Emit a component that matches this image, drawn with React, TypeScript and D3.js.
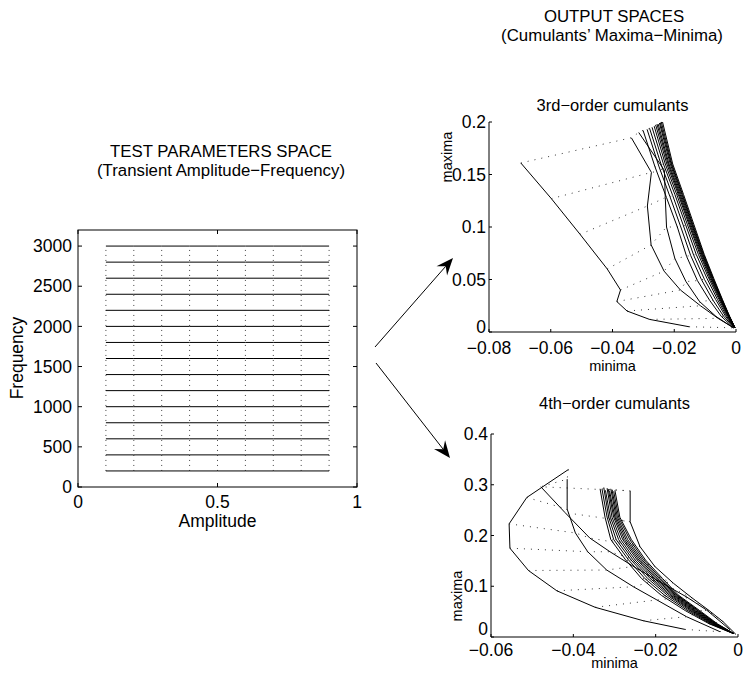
import React from 'react';
import * as d3 from 'd3';

// ---------- DATA ----------
const amplitudes = [0.1, 0.2, 0.3, 0.4, 0.5, 0.6, 0.7, 0.8, 0.9];
const frequencies = [200, 400, 600, 800, 1000, 1200, 1400, 1600, 1800, 2000, 2200, 2400, 2600, 2800, 3000];
const paramXTicks = [0, 0.5, 1];
const paramYTicks = [0, 500, 1000, 1500, 2000, 2500, 3000];

// 3rd-order cumulants: one row per frequency, one column per amplitude
const cum3Minima: number[][] = [
  [-0.0152, -0.0280, -0.0353, -0.0386, -0.0374, -0.0417, -0.0505, -0.0598, -0.0697],
  [-0.0008, -0.0058, -0.0115, -0.0180, -0.0233, -0.0275, -0.0287, -0.0274, -0.0339],
  [-0.0008, -0.0064, -0.0118, -0.0162, -0.0198, -0.0225, -0.0229, -0.0232, -0.0315],
  [-0.0008, -0.0048, -0.0085, -0.0125, -0.0160, -0.0190, -0.0225, -0.0262, -0.0301],
  [-0.0006, -0.0040, -0.0074, -0.0112, -0.0147, -0.0180, -0.0214, -0.0250, -0.0288],
  [-0.0005, -0.0034, -0.0066, -0.0102, -0.0137, -0.0170, -0.0205, -0.0242, -0.0280],
  [-0.0005, -0.0030, -0.0060, -0.0094, -0.0129, -0.0163, -0.0198, -0.0235, -0.0272],
  [-0.0004, -0.0027, -0.0055, -0.0088, -0.0122, -0.0157, -0.0192, -0.0229, -0.0265],
  [-0.0004, -0.0025, -0.0052, -0.0084, -0.0117, -0.0152, -0.0187, -0.0224, -0.0260],
  [-0.0004, -0.0024, -0.0050, -0.0081, -0.0114, -0.0149, -0.0184, -0.0220, -0.0256],
  [-0.0004, -0.0023, -0.0048, -0.0079, -0.0111, -0.0146, -0.0181, -0.0217, -0.0252],
  [-0.0003, -0.0022, -0.0047, -0.0077, -0.0109, -0.0143, -0.0178, -0.0213, -0.0248],
  [-0.0003, -0.0022, -0.0046, -0.0075, -0.0107, -0.0141, -0.0175, -0.0210, -0.0245],
  [-0.0003, -0.0021, -0.0045, -0.0074, -0.0105, -0.0139, -0.0173, -0.0208, -0.0242],
  [-0.0003, -0.0021, -0.0044, -0.0072, -0.0103, -0.0136, -0.0170, -0.0205, -0.0238],
];
const cum3Maxima: number[][] = [
  [0.005, 0.012, 0.020, 0.029, 0.040, 0.060, 0.093, 0.127, 0.161],
  [0.004, 0.013, 0.025, 0.040, 0.058, 0.083, 0.120, 0.152, 0.185],
  [0.004, 0.0146, 0.029, 0.048, 0.070, 0.100, 0.128, 0.154, 0.190],
  [0.004, 0.015, 0.030, 0.049, 0.072, 0.100, 0.128, 0.157, 0.192],
  [0.004, 0.015, 0.030, 0.050, 0.073, 0.101, 0.129, 0.158, 0.193],
  [0.004, 0.015, 0.031, 0.050, 0.073, 0.101, 0.130, 0.159, 0.194],
  [0.004, 0.015, 0.031, 0.051, 0.074, 0.102, 0.131, 0.160, 0.195],
  [0.004, 0.015, 0.031, 0.051, 0.074, 0.102, 0.131, 0.160, 0.196],
  [0.004, 0.015, 0.031, 0.051, 0.074, 0.102, 0.131, 0.160, 0.197],
  [0.004, 0.015, 0.031, 0.051, 0.074, 0.102, 0.131, 0.160, 0.198],
  [0.004, 0.015, 0.031, 0.051, 0.074, 0.102, 0.131, 0.160, 0.198],
  [0.004, 0.015, 0.031, 0.051, 0.074, 0.102, 0.131, 0.160, 0.199],
  [0.004, 0.015, 0.031, 0.051, 0.074, 0.102, 0.131, 0.160, 0.199],
  [0.004, 0.015, 0.031, 0.051, 0.074, 0.102, 0.131, 0.160, 0.200],
  [0.004, 0.015, 0.031, 0.051, 0.074, 0.102, 0.131, 0.160, 0.200],
];
const cum3XTicks = [-0.08, -0.06, -0.04, -0.02, 0];
const cum3YTicks = [0, 0.05, 0.1, 0.15, 0.2];

// 4th-order cumulants
const cum4Minima: number[][] = [
  [-0.0129, -0.0230, -0.0347, -0.0440, -0.0509, -0.0554, -0.0556, -0.0513, -0.0412],
  [-0.0044, -0.0125, -0.0197, -0.0254, -0.0319, -0.0365, -0.0395, -0.0415, -0.0415],
  [-0.0019, -0.0076, -0.0125, -0.0197, -0.0254, -0.0311, -0.0360, -0.0420, -0.0479],
  [-0.0005, -0.0036, -0.0070, -0.0110, -0.0157, -0.0202, -0.0238, -0.0262, -0.0262],
  [-0.0012, -0.0070, -0.0128, -0.0186, -0.0234, -0.0273, -0.0309, -0.0323, -0.0335],
  [-0.0012, -0.0067, -0.0122, -0.0178, -0.0226, -0.0266, -0.0302, -0.0318, -0.0330],
  [-0.0011, -0.0064, -0.0117, -0.0171, -0.0219, -0.0260, -0.0296, -0.0314, -0.0326],
  [-0.0011, -0.0062, -0.0113, -0.0166, -0.0213, -0.0255, -0.0290, -0.0310, -0.0322],
  [-0.0011, -0.0060, -0.0110, -0.0162, -0.0208, -0.0250, -0.0285, -0.0306, -0.0318],
  [-0.0011, -0.0058, -0.0107, -0.0158, -0.0203, -0.0245, -0.0280, -0.0302, -0.0315],
  [-0.0011, -0.0056, -0.0104, -0.0155, -0.0199, -0.0241, -0.0276, -0.0299, -0.0312],
  [-0.0011, -0.0055, -0.0101, -0.0152, -0.0195, -0.0237, -0.0272, -0.0296, -0.0309],
  [-0.0011, -0.0053, -0.0098, -0.0149, -0.0191, -0.0233, -0.0268, -0.0293, -0.0306],
  [-0.0011, -0.0052, -0.0096, -0.0147, -0.0187, -0.0229, -0.0263, -0.0290, -0.0302],
  [-0.0011, -0.0050, -0.0093, -0.0144, -0.0183, -0.0225, -0.0259, -0.0287, -0.0299],
];
const cum4Maxima: number[][] = [
  [0.015, 0.032, 0.0585, 0.091, 0.131, 0.175, 0.223, 0.275, 0.330],
  [0.0105, 0.040, 0.073, 0.099, 0.132, 0.168, 0.205, 0.252, 0.311],
  [0.014, 0.053, 0.079, 0.112, 0.139, 0.168, 0.195, 0.245, 0.296],
  [0.005, 0.030, 0.052, 0.076, 0.106, 0.139, 0.178, 0.227, 0.288],
  [0.007, 0.026, 0.052, 0.082, 0.115, 0.152, 0.192, 0.236, 0.292],
  [0.007, 0.026, 0.052, 0.082, 0.115, 0.152, 0.192, 0.236, 0.290],
  [0.007, 0.026, 0.052, 0.082, 0.115, 0.152, 0.192, 0.236, 0.294],
  [0.007, 0.026, 0.052, 0.082, 0.115, 0.152, 0.192, 0.236, 0.289],
  [0.007, 0.026, 0.052, 0.082, 0.115, 0.152, 0.192, 0.236, 0.293],
  [0.007, 0.026, 0.052, 0.082, 0.115, 0.152, 0.192, 0.236, 0.291],
  [0.007, 0.026, 0.052, 0.082, 0.115, 0.152, 0.192, 0.236, 0.288],
  [0.007, 0.026, 0.052, 0.082, 0.115, 0.152, 0.192, 0.236, 0.292],
  [0.007, 0.026, 0.052, 0.082, 0.115, 0.152, 0.192, 0.236, 0.290],
  [0.007, 0.026, 0.052, 0.082, 0.115, 0.152, 0.192, 0.236, 0.287],
  [0.007, 0.026, 0.052, 0.082, 0.115, 0.152, 0.192, 0.236, 0.289],
];
const cum4XTicks = [-0.06, -0.04, -0.02, 0];
const cum4YTicks = [0, 0.1, 0.2, 0.3, 0.4];

// ---------- RENDERING ----------
const FONT = '"Liberation Sans", Arial, Helvetica, sans-serif';
const TICK_FS = 17.5;
const TITLE_FS = 16.8;
const SMALL_FS = 14.5;
const fmt = d3.format('~g');
const lineGen = d3.line<[number, number]>();

type Pt = [number, number];

function Arrow({ from, to }: { from: Pt; to: Pt }) {
  const dx = to[0] - from[0];
  const dy = to[1] - from[1];
  const len = Math.hypot(dx, dy);
  const ux = dx / len, uy = dy / len;
  const px = -uy, py = ux;
  const L = 17, W = 7, IN = 11;
  const back: Pt = [to[0] - ux * L, to[1] - uy * L];
  const a: Pt = [back[0] + px * W, back[1] + py * W];
  const b: Pt = [back[0] - px * W, back[1] - py * W];
  const c: Pt = [to[0] - ux * IN, to[1] - uy * IN];
  return (
    <g>
      <line x1={from[0]} y1={from[1]} x2={c[0]} y2={c[1]} stroke="#000" strokeWidth={1} />
      <path d={`M${to[0]},${to[1]}L${a[0]},${a[1]}L${c[0]},${c[1]}L${b[0]},${b[1]}Z`} fill="#000" />
    </g>
  );
}

function CumulantPanel(props: {
  minima: number[][];
  maxima: number[][];
  xDomain: [number, number];
  yDomain: [number, number];
  xRange: [number, number];
  yRange: [number, number];
  xTicks: number[];
  yTicks: number[];
  title: string;
  titleY: number;
  xLabelBaseline: number;
  xTickBaseline: number;
  zeroShift: number;
  yLabelX: number;
  yLabelY: number;
}) {
  const { minima, maxima, xDomain, yDomain, xRange, yRange, xTicks, yTicks } = props;
  const x = d3.scaleLinear().domain(xDomain).range(xRange);
  const y = d3.scaleLinear().domain(yDomain).range(yRange);
  const curves: Pt[][] = minima.map((row, i) => row.map((v, j) => [x(v), y(maxima[i][j])] as Pt));
  const dotted: Pt[][] = amplitudes.map((_, j) => minima.map((row, i) => [x(row[j]), y(maxima[i][j])] as Pt));
  const x0 = xRange[0], x1 = xRange[1], y0 = yRange[0], y1 = yRange[1];
  const cx = (x0 + x1) / 2;
  return (
    <g>
      {dotted.map((pts, j) => (
        <path key={'d' + j} d={lineGen(pts) || ''} fill="none" stroke="#333" strokeWidth={1} strokeDasharray="1 6" />
      ))}
      {curves.map((pts, i) => (
        <path key={'c' + i} d={lineGen(pts) || ''} fill="none" stroke="#000" strokeWidth={1} />
      ))}
      <line x1={x0} y1={y0} x2={x1} y2={y0} stroke="#000" strokeWidth={1} />
      <line x1={x0} y1={y0} x2={x0} y2={y1} stroke="#000" strokeWidth={1} />
      {xTicks.map((t) => (
        <g key={'xt' + t}>
          <line x1={x(t)} x2={x(t)} y1={y0} y2={y0 - 3} stroke="#000" strokeWidth={1} />
          <text x={x(t)} y={props.xTickBaseline} textAnchor="middle" fontSize={TICK_FS} fontFamily={FONT}>{fmt(t)}</text>
        </g>
      ))}
      {yTicks.map((t) => (
        <g key={'yt' + t}>
          <line x1={x0} x2={x0 + 3} y1={y(t)} y2={y(t)} stroke="#000" strokeWidth={1} />
          <text x={x0 - 3} y={y(t) - (t === 0 ? props.zeroShift : 0)} dy="0.35em" textAnchor="end" fontSize={TICK_FS} fontFamily={FONT}>{fmt(t)}</text>
        </g>
      ))}
      <text x={cx} y={props.titleY} textAnchor="middle" fontSize={TITLE_FS - 0.3} fontFamily={FONT}>{props.title}</text>
      <text x={cx} y={props.xLabelBaseline} textAnchor="middle" fontSize={SMALL_FS} fontFamily={FONT}>minima</text>
      <text
        transform={`translate(${props.yLabelX},${props.yLabelY}) rotate(-90)`}
        textAnchor="middle"
        fontSize={SMALL_FS}
        fontFamily={FONT}
      >maxima</text>
    </g>
  );
}

export default function App() {
  // parameter space panel
  const px = d3.scaleLinear().domain([0, 1]).range([78, 357]);
  const py = d3.scaleLinear().domain([0, 3200]).range([487, 230]);
  const hLines: Pt[][] = frequencies.map((f) => amplitudes.map((a) => [px(a), py(f)] as Pt));
  const vLines: Pt[][] = amplitudes.map((a) => frequencies.map((f) => [px(a), py(f)] as Pt));

  return (
    <svg width={746} height={682} style={{ position: 'absolute', left: 0, top: 0, background: '#fff' }}>
      <rect x={0} y={0} width={746} height={682} fill="#fff" />
      {/* headings */}
      <text x={221} y={157} textAnchor="middle" fontSize={TITLE_FS} fontFamily={FONT}>TEST PARAMETERS SPACE</text>
      <text x={221} y={176} textAnchor="middle" fontSize={TITLE_FS} fontFamily={FONT}>(Transient Amplitude−Frequency)</text>
      <text x={614} y={22} textAnchor="middle" fontSize={TITLE_FS} fontFamily={FONT}>OUTPUT SPACES</text>
      <text x={612} y={41} textAnchor="middle" fontSize={TITLE_FS} fontFamily={FONT}>(Cumulants’ Maxima−Minima)</text>

      {/* parameter panel */}
      <g>
        {vLines.map((pts, i) => (
          <path key={'v' + i} d={lineGen(pts) || ''} fill="none" stroke="#444" strokeWidth={1} strokeDasharray="1 4" />
        ))}
        {hLines.map((pts, i) => (
          <path key={'h' + i} d={lineGen(pts) || ''} fill="none" stroke="#000" strokeWidth={1} />
        ))}
        <rect x={78} y={230} width={279} height={257} fill="none" stroke="#000" strokeWidth={1} />
        {paramXTicks.map((t) => (
          <g key={'px' + t}>
            <line x1={px(t)} x2={px(t)} y1={487} y2={483} stroke="#000" />
            <line x1={px(t)} x2={px(t)} y1={230} y2={234} stroke="#000" />
            <text x={px(t)} y={508} textAnchor="middle" fontSize={TICK_FS} fontFamily={FONT}>{fmt(t)}</text>
          </g>
        ))}
        {paramYTicks.map((t) => (
          <g key={'py' + t}>
            <line x1={78} x2={82} y1={py(t)} y2={py(t)} stroke="#000" />
            <line x1={357} x2={353} y1={py(t)} y2={py(t)} stroke="#000" />
            <text x={72} y={py(t)} dy="0.35em" textAnchor="end" fontSize={TICK_FS} fontFamily={FONT}>{fmt(t)}</text>
          </g>
        ))}
        <text x={217.5} y={527} textAnchor="middle" fontSize={17.5} fontFamily={FONT}>Amplitude</text>
        <text transform="translate(23,358) rotate(-90)" textAnchor="middle" fontSize={17.5} fontFamily={FONT}>Frequency</text>
      </g>

      <CumulantPanel
        minima={cum3Minima}
        maxima={cum3Maxima}
        xDomain={[-0.08, 0]}
        yDomain={[0, 0.2]}
        xRange={[489, 736]}
        yRange={[332, 122]}
        xTicks={cum3XTicks}
        yTicks={cum3YTicks}
        title="3rd−order cumulants"
        titleY={111}
        xTickBaseline={354}
        zeroShift={5}
        xLabelBaseline={371}
        yLabelX={452}
        yLabelY={157}
      />
      <CumulantPanel
        minima={cum4Minima}
        maxima={cum4Maxima}
        xDomain={[-0.06, 0]}
        yDomain={[0, 0.4]}
        xRange={[491, 738]}
        yRange={[637, 434]}
        xTicks={cum4XTicks}
        yTicks={cum4YTicks}
        title="4th−order cumulants"
        titleY={409}
        xTickBaseline={656}
        zeroShift={8}
        xLabelBaseline={668}
        yLabelX={462}
        yLabelY={596}
      />

      <Arrow from={[375, 347]} to={[453, 258]} />
      <Arrow from={[376, 363]} to={[450, 458]} />
    </svg>
  );
}
